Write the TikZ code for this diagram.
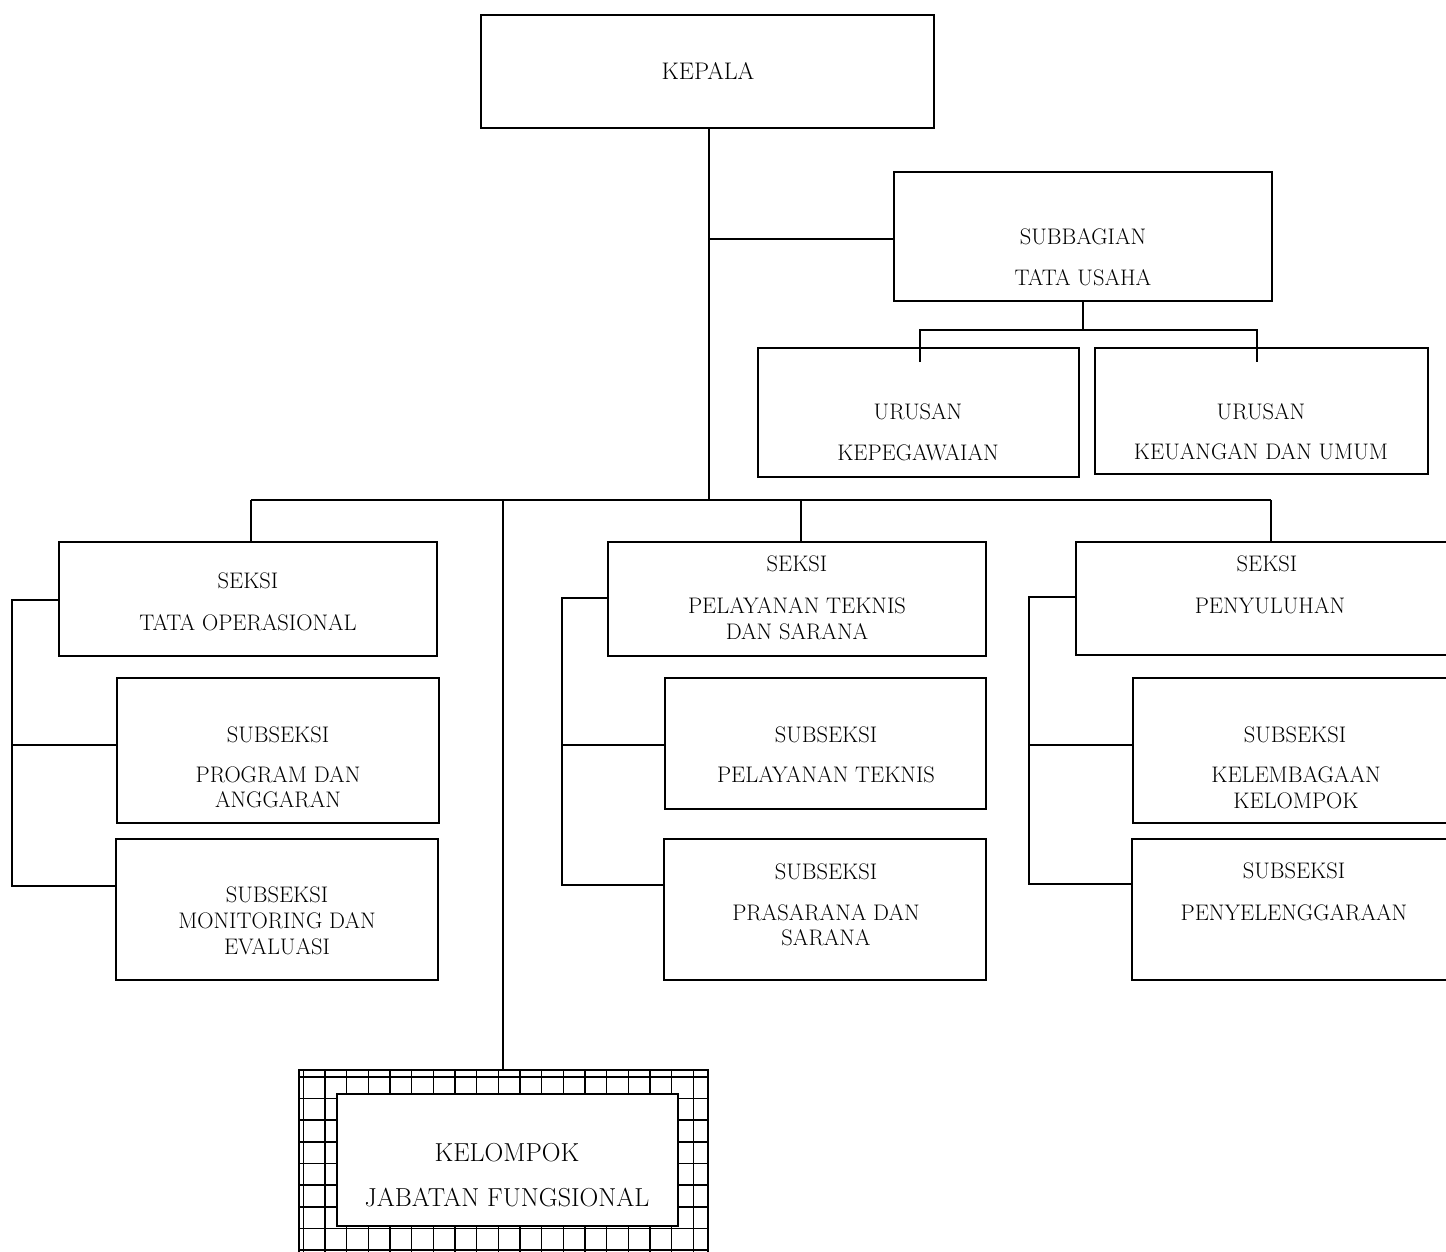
\documentclass[tikz,border=0pt]{standalone}
\usepackage{fontspec}
\begin{document}
\begin{tikzpicture}[x=1pt,y=-1pt,
  orgbox/.style={draw,line width=1.5pt,inner sep=0pt},
  conn/.style={line width=1.5pt},
  txt/.style={inner sep=0pt,anchor=base,font=\fontsize{22.5}{26}\selectfont},
  bigtxt/.style={inner sep=0pt,anchor=base,font=\fontsize{26}{30}\selectfont},
  gridline/.style={line width=1.6pt}]
\clip (0,0) rectangle (1446,1252);
\fill[white] (0,0) rectangle (1446,1252);
% boxes
\node[orgbox,minimum width=453,minimum height=113] (kepala) at (707.5,71.5) {};
\node[orgbox,minimum width=378,minimum height=129] (sub) at (1083,236.5) {};
\node[orgbox,minimum width=321,minimum height=129] (urk) at (918.5,412.5) {};
\node[orgbox,minimum width=333,minimum height=126] (keu) at (1261.5,411) {};
\node[orgbox,minimum width=378,minimum height=114] (s1) at (248,599) {};
\node[orgbox,minimum width=322,minimum height=145] (ss1) at (278,750.5) {};
\node[orgbox,minimum width=322,minimum height=141] (ss2) at (277,909.5) {};
\node[orgbox,minimum width=378,minimum height=114] (s2) at (797,599) {};
\node[orgbox,minimum width=321,minimum height=131] (ss3) at (825.5,743.5) {};
\node[orgbox,minimum width=322,minimum height=141] (ss4) at (825,909.5) {};
\node[orgbox,minimum width=380,minimum height=113] (s3) at (1266,598.5) {};
\node[orgbox,minimum width=323,minimum height=145] (ss5) at (1294.5,750.5) {};
\node[orgbox,minimum width=324,minimum height=141] (ss6) at (1294,909.5) {};
% grid box
\node[orgbox,minimum width=409,minimum height=200] (grid) at (503.5,1170) {};
\begin{scope}
\clip (299,1070) rectangle (708,1270);
\foreach \k in {0,...,18} {\draw[gridline] (303.3+21.67*\k,1070) -- (303.3+21.67*\k,1270);}
\foreach \k in {0,...,8} {\draw[gridline] (299,1076.7+21.67*\k) -- (708,1076.7+21.67*\k);}
\end{scope}
\node[orgbox,fill=white,minimum width=341,minimum height=132] (jf) at (507.5,1160) {};
% texts
\node[txt,font=\fontsize{24}{28}\selectfont] (t0) at (708,80) {KEPALA};
\node[txt] (ta1) at (1083,244) {SUBBAGIAN};
\node[txt] (ta2) at (1083,285) {TATA USAHA};
\node[txt] (tb1) at (918,419) {URUSAN};
\node[txt] (tb2) at (918,460) {KEPEGAWAIAN};
\node[txt] (tc1) at (1261,419) {URUSAN};
\node[txt] (tc2) at (1261,459) {KEUANGAN DAN UMUM};
\node[txt] (td1) at (248,588) {SEKSI};
\node[txt] (td2) at (248,630) {TATA OPERASIONAL};
\node[txt] (te1) at (278,742) {SUBSEKSI};
\node[txt] (te2) at (278,782) {PROGRAM DAN};
\node[txt] (te3) at (278,807) {ANGGARAN};
\node[txt] (tf1) at (277,902) {SUBSEKSI};
\node[txt] (tf2) at (277,928) {MONITORING DAN};
\node[txt] (tf3) at (277,954) {EVALUASI};
\node[txt] (tg1) at (797,571) {SEKSI};
\node[txt] (tg2) at (797,613) {PELAYANAN TEKNIS};
\node[txt] (tg3) at (797,639) {DAN SARANA};
\node[txt] (th1) at (826,742) {SUBSEKSI};
\node[txt] (th2) at (826,782) {PELAYANAN TEKNIS};
\node[txt] (ti1) at (826,879) {SUBSEKSI};
\node[txt] (ti2) at (826,920) {PRASARANA DAN};
\node[txt] (ti3) at (826,945) {SARANA};
\node[txt] (tj1) at (1267,571) {SEKSI};
\node[txt] (tj2) at (1270,613) {PENYULUHAN};
\node[txt] (tk1) at (1295,742) {SUBSEKSI};
\node[txt] (tk2) at (1296,782) {KELEMBAGAAN};
\node[txt] (tk3) at (1296,808) {KELOMPOK};
\node[txt] (tl1) at (1294,878) {SUBSEKSI};
\node[txt] (tl2) at (1294,920) {PENYELENGGARAAN};
\node[bigtxt] (tm1) at (507,1161) {KELOMPOK};
\node[bigtxt] (tm2) at (507,1206) {JABATAN FUNGSIONAL};
% coordinates
\coordinate (bar) at (709,500);
\coordinate (subj) at (709,239);
\coordinate (ubar) at (1083,330);
\coordinate (d1) at (251,500);
\coordinate (d2) at (503,500);
\coordinate (d3) at (801,500);
\coordinate (d4) at (1271,500);
\coordinate (La) at (12,600);
\coordinate (Lb) at (12,745);
\coordinate (Lc) at (12,886);
\coordinate (Ma) at (562,598);
\coordinate (Mb) at (562,745);
\coordinate (Mc) at (562,885);
\coordinate (Ra) at (1029,597);
\coordinate (Rb) at (1029,745);
\coordinate (Rc) at (1029,884);
\coordinate (uk1) at (920,362);
\coordinate (uk2) at (1257,362);
% connectors
\draw[conn] (kepala.south -| bar) -- (bar);
\draw[conn] (subj) -- (sub.west |- subj);
\draw[conn] (sub.south) -- (ubar);
\draw[conn] (uk1) -- (uk1 |- ubar) -- (uk2 |- ubar) -- (uk2);
\draw[conn] (d1) -- (d4);
\draw[conn] (d1) -- (d1 |- s1.north);
\draw[conn] (d2) -- (d2 |- grid.north);
\draw[conn] (d3) -- (d3 |- s2.north);
\draw[conn] (d4) -- (d4 |- s3.north);
\draw[conn] (s1.west |- La) -- (La) -- (Lc) -- (ss2.west |- Lc);
\draw[conn] (Lb) -- (ss1.west |- Lb);
\draw[conn] (s2.west |- Ma) -- (Ma) -- (Mc) -- (ss4.west |- Mc);
\draw[conn] (Mb) -- (ss3.west |- Mb);
\draw[conn] (s3.west |- Ra) -- (Ra) -- (Rc) -- (ss6.west |- Rc);
\draw[conn] (Rb) -- (ss5.west |- Rb);
\end{tikzpicture}
\end{document}
